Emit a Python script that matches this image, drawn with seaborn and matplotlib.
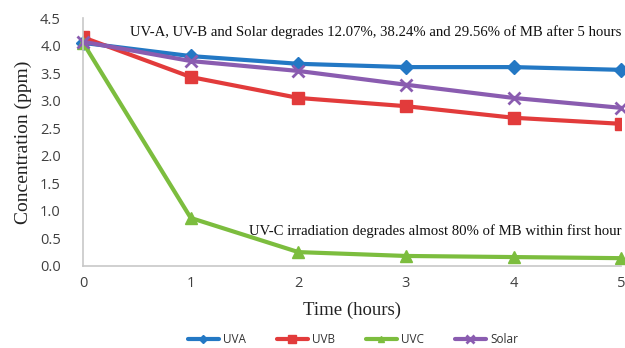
import matplotlib
matplotlib.use("Agg")
import matplotlib.pyplot as plt
import seaborn as sns
import pandas as pd

hours = [0, 1, 2, 3, 4, 5]
uva = [4.05, 3.81, 3.67, 3.61, 3.61, 3.56]
uvb = [4.15, 3.43, 3.05, 2.90, 2.69, 2.58]
uvc = [4.05, 0.87, 0.25, 0.18, 0.16, 0.14]
solar = [4.07, 3.72, 3.54, 3.29, 3.05, 2.87]
series_names = ["UVA", "UVB", "UVC", "Solar"]
y_ticks = [0.0, 0.5, 1.0, 1.5, 2.0, 2.5, 3.0, 3.5, 4.0, 4.5]
x_ticks = [0, 1, 2, 3, 4, 5]

sns.set_theme(style="white")
plt.rcParams['font.family'] = ['DejaVu Sans']

colors = {"UVA": "#2378c4", "UVB": "#e23b3b", "UVC": "#7cbd3e", "Solar": "#8a5cb0"}
markers = {"UVA": "D", "UVB": "s", "UVC": "^", "Solar": "x"}
msizes = {"UVA": 7, "UVB": 9, "UVC": 8, "Solar": 9}

fig = plt.figure(figsize=(6.25, 3.48), dpi=100)
ax = fig.add_axes([0.133, 0.236, 0.861, 0.712])

for name, vals in zip(series_names, [uva, uvb, uvc, solar]):
    df = pd.DataFrame({"x": hours, "y": vals})
    sns.lineplot(data=df, x="x", y="y", ax=ax, color=colors[name], linewidth=3,
                 marker=markers[name], markersize=msizes[name],
                 markeredgecolor=colors[name], markeredgewidth=2 if name == "Solar" else 1,
                 label=name, clip_on=False if name != "UVB" else True)

ax.set_xlim(0, 5)
ax.set_ylim(0, 4.5)
ax.set_xticks(x_ticks)
ax.set_yticks(y_ticks)
ax.set_yticklabels([f"{v:.1f}" for v in y_ticks])
ax.tick_params(axis="y", labelsize=10.5, colors="#404040", length=0, pad=16)
ax.tick_params(axis="x", labelsize=10.5, colors="#404040", length=0, pad=7)
for lbl in ax.get_xticklabels() + ax.get_yticklabels():
    lbl.set_family("Open Sans")
for s in ["top", "right"]:
    ax.spines[s].set_visible(False)
for s in ["left", "bottom"]:
    ax.spines[s].set_color("#c8c8c8")
    ax.spines[s].set_linewidth(1.2)

ax.set_xlabel("Time (hours)", family="Liberation Serif", fontsize=13.5, color="#222222", labelpad=8)
ax.set_ylabel("Concentration (ppm)", family="Liberation Serif", fontsize=14, color="#222222", labelpad=6)

ax.text(1.0, 0.943, "UV-A, UV-B and Solar degrades 12.07%, 38.24% and 29.56% of MB after 5 hours",
        transform=ax.transAxes, ha="right", va="center", family="Liberation Serif", fontsize=10.6,
        color="#111111")
ax.text(1.0, 0.14, "UV-C irradiation degrades almost 80% of MB within first hour",
        transform=ax.transAxes, ha="right", va="center", family="Liberation Serif", fontsize=10.6,
        color="#111111")

handles, labels = ax.get_legend_handles_labels()
if ax.legend_:
    ax.legend_.remove()
leg = fig.legend(handles, labels, loc="center", bbox_to_anchor=(0.565, 0.025), ncol=4,
                 frameon=False, fontsize=8.5, handlelength=2.6, columnspacing=2.6,
                 markerscale=0.6, handletextpad=0.4)
for t in leg.get_texts():
    t.set_family("Open Sans")
    t.set_color("#333333")

fig.savefig("out.png", dpi=100)
